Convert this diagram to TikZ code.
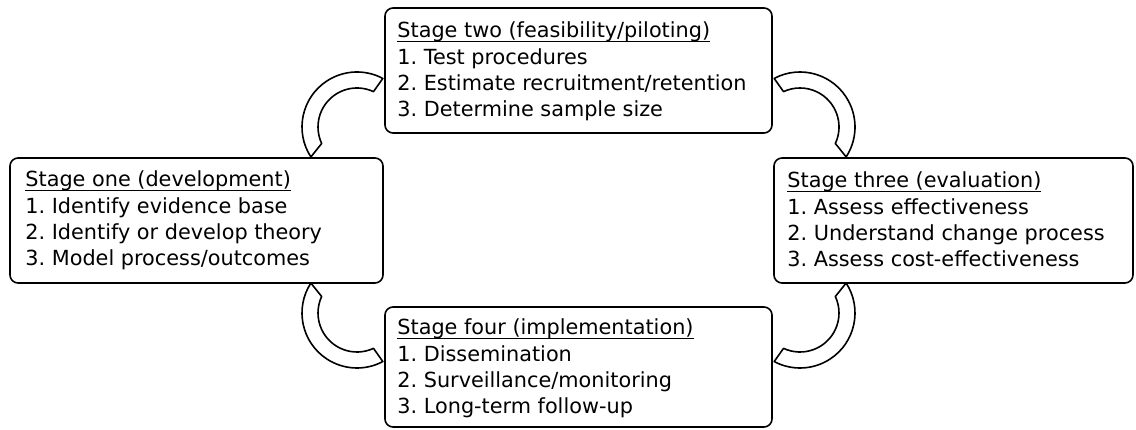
\documentclass[tikz,border=0pt]{standalone}
\usepackage{fontspec}
\setmainfont{DejaVu Sans}
\usetikzlibrary{calc}
\newcommand\stageul[1]{\setbox0\hbox{#1}\rlap{\rule[-4.5pt]{\wd0}{1.3pt}}\box0}
\begin{document}
\frenchspacing
\begin{tikzpicture}[x=1pt,y=1pt,
  stagebox/.style={draw, line width=1.6pt, rounded corners=8pt, inner sep=0pt},
  stagetext/.style={anchor=north west, inner sep=0pt, align=left,
    font=\fontsize{20.8}{26.3}\selectfont},
  ring/.style={draw, fill=white, line width=1.6pt, line join=round}]
\useasboundingbox (0,0) rectangle (1136,430);
% curved block arrows
\coordinate (ctl) at (357,303);
\coordinate (ctr) at (800,303);
\coordinate (cbl) at (357,117);
\coordinate (cbr) at (800,117);
\draw[ring] ($(ctl)+(213:55)$) arc[start angle=213, end angle=62, radius=55]
  -- ($(ctl)+(65:39)$) arc[start angle=65, end angle=205, radius=39] -- cycle;
\draw[ring] ($(ctr)+(118:55)$) arc[start angle=118, end angle=-33, radius=55]
  -- ($(ctr)+(-25:39)$) arc[start angle=-25, end angle=115, radius=39] -- cycle;
\draw[ring] ($(cbl)+(147:55)$) arc[start angle=147, end angle=298, radius=55]
  -- ($(cbl)+(295:39)$) arc[start angle=295, end angle=155, radius=39] -- cycle;
\draw[ring] ($(cbr)+(33:55)$) arc[start angle=33, end angle=-118, radius=55]
  -- ($(cbr)+(-115:39)$) arc[start angle=-115, end angle=25, radius=39] -- cycle;
% stage boxes
\node[stagebox, minimum width=387pt, minimum height=125pt] (two) at (578.5,359.5) {};
\node[stagebox, minimum width=373pt, minimum height=125pt] (one) at (196.5,209.5) {};
\node[stagebox, minimum width=359pt, minimum height=125pt] (three) at (953.5,209.5) {};
\node[stagebox, minimum width=387pt, minimum height=120pt] (four) at (578.5,63) {};
% texts
\node[stagetext] (twotext) at ($(two.north west)+(13,-12)$)
  {\strut\stageul{Stage two (feasibility/piloting)}\\1. Test procedures\\2. Estimate recruitment/retention\\3. Determine sample size};
\node[stagetext] (onetext) at ($(one.north west)+(16,-11)$)
  {\strut\stageul{Stage one (development)}\\1. Identify evidence base\\2. Identify or develop theory\\3. Model process/outcomes};
\node[stagetext] (threetext) at ($(three.north west)+(14,-12)$)
  {\strut\stageul{Stage three (evaluation)}\\1. Assess effectiveness\\2. Understand change process\\3. Assess cost-effectiveness};
\node[stagetext] (fourtext) at ($(four.north west)+(13,-10)$)
  {\strut\stageul{Stage four (implementation)}\\1. Dissemination\\2. Surveillance/monitoring\\3. Long-term follow-up};
\end{tikzpicture}
\end{document}
